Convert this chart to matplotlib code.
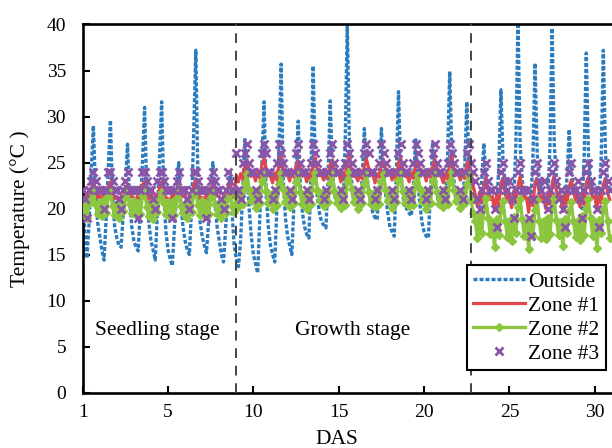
import matplotlib
matplotlib.use('Agg')
import matplotlib.pyplot as plt
import numpy as np

plt.rcParams['font.family'] = ['Liberation Serif', 'DejaVu Serif']

# 3-hourly readings (0h, 3h, ..., 21h), one row per day, DAS 1..31
outside = [
    21.0, 17.5, 14.6, 18.5, 24.0, 29.0, 22.0, 18.5,
    17.0, 15.5, 14.4, 19.0, 24.5, 29.6, 21.5, 18.0,
    16.8, 16.0, 15.8, 19.5, 22.5, 27.0, 21.0, 18.0,
    16.5, 15.8, 15.4, 20.0, 25.0, 31.0, 22.0, 18.5,
    16.5, 15.5, 14.4, 19.5, 25.5, 31.6, 21.5, 17.5,
    15.5, 14.5, 13.8, 18.0, 21.5, 25.0, 20.5, 18.0,
    16.5, 15.5, 15.0, 20.0, 28.0, 37.2, 23.0, 18.5,
    17.0, 16.0, 15.2, 18.5, 22.0, 25.0, 20.5, 18.0,
    16.5, 15.0, 14.2, 18.0, 21.5, 24.0, 19.5, 16.0,
    14.5, 13.7, 16.5, 22.0, 27.5, 24.0, 20.0, 17.0,
    15.0, 14.0, 13.0, 19.0, 25.0, 31.6, 21.5, 18.0,
    16.0, 15.0, 14.2, 20.0, 27.0, 35.7, 23.0, 19.0,
    17.0, 16.0, 15.0, 20.5, 24.5, 29.5, 22.5, 19.5,
    18.0, 17.2, 16.8, 24.0, 35.5, 25.0, 21.0, 19.5,
    18.5, 18.2, 17.9, 23.5, 31.7, 24.0, 21.5, 20.5,
    20.5, 20.3, 20.2, 27.0, 40.0, 27.0, 23.0, 21.5,
    21.0, 20.5, 20.0, 23.5, 28.7, 24.0, 22.0, 20.5,
    19.5, 19.0, 18.8, 23.0, 28.7, 23.5, 21.5, 19.5,
    18.0, 17.5, 17.0, 24.0, 32.7, 24.5, 21.5, 20.0,
    20.0, 19.5, 19.2, 22.5, 27.7, 23.0, 20.5, 18.5,
    17.5, 17.0, 16.8, 22.0, 27.2, 23.0, 21.5, 20.5,
    20.5, 20.3, 20.2, 25.5, 34.9, 26.0, 23.0, 21.5,
    21.0, 20.5, 20.0, 24.0, 31.6, 25.0, 22.5, 21.5,
    21.0, 20.5, 20.0, 23.0, 27.1, 23.5, 22.0, 21.5,
    21.0, 20.5, 20.0, 24.5, 32.9, 25.0, 22.5, 21.5,
    21.0, 20.5, 20.5, 27.0, 40.5, 27.0, 23.0, 22.0,
    21.5, 21.0, 20.5, 25.5, 35.8, 26.0, 23.0, 22.0,
    21.5, 21.0, 20.5, 27.0, 39.6, 27.0, 23.5, 22.0,
    21.5, 21.0, 20.5, 23.5, 28.6, 24.0, 22.5, 21.5,
    21.0, 20.5, 20.0, 25.5, 36.9, 26.0, 23.0, 22.0,
    21.5, 21.0, 20.5, 25.5, 37.2, 26.0, 23.0, 22.0,
]

zone1 = [
    21.0, 20.6, 21.5, 20.8, 22.2, 22.8, 21.8, 21.2,
    21.4, 20.7, 21.6, 21.0, 22.4, 22.9, 21.7, 21.1,
    21.3, 20.5, 21.4, 20.9, 22.1, 22.6, 21.9, 21.3,
    21.2, 20.6, 21.7, 21.0, 22.5, 23.0, 21.8, 21.0,
    21.5, 20.8, 21.5, 20.7, 22.3, 22.9, 21.6, 21.2,
    21.1, 20.5, 21.6, 20.9, 22.0, 22.5, 21.7, 21.3,
    21.4, 20.6, 21.5, 21.1, 22.6, 23.1, 21.9, 21.1,
    21.2, 20.7, 21.7, 20.8, 22.2, 22.7, 21.8, 21.4,
    21.3, 20.6, 21.4, 21.0, 22.3, 22.8, 21.6, 21.2,
    23.6, 22.9, 23.8, 23.2, 24.6, 25.3, 24.2, 23.5,
    23.8, 23.0, 24.0, 23.3, 24.8, 25.4, 24.3, 23.6,
    23.5, 22.8, 23.9, 23.1, 24.9, 25.6, 24.1, 23.7,
    23.7, 23.0, 24.1, 23.4, 24.7, 25.2, 24.4, 23.5,
    23.9, 22.9, 23.8, 23.2, 25.0, 25.5, 24.2, 23.6,
    23.6, 23.1, 24.0, 23.3, 24.8, 25.3, 24.3, 23.8,
    23.8, 22.9, 23.9, 23.5, 25.1, 25.6, 24.1, 23.5,
    23.5, 23.0, 24.1, 23.2, 24.7, 25.4, 24.4, 23.7,
    23.7, 22.8, 23.8, 23.4, 24.9, 25.3, 24.2, 23.6,
    23.9, 23.1, 24.0, 23.1, 25.0, 25.5, 24.3, 23.5,
    23.6, 22.9, 23.9, 23.3, 24.8, 25.2, 24.1, 23.8,
    23.8, 23.0, 24.1, 23.4, 24.6, 25.4, 24.4, 23.6,
    23.5, 22.8, 23.8, 23.2, 25.0, 25.6, 24.2, 23.7,
    23.7, 23.1, 24.0, 23.3, 24.9, 25.3, 24.0, 22.5,
    21.5, 20.2, 21.8, 20.6, 22.6, 23.4, 21.9, 21.0,
    21.3, 19.8, 21.5, 20.4, 22.8, 23.3, 21.6, 20.9,
    21.6, 20.1, 21.9, 20.7, 22.5, 23.5, 22.0, 21.1,
    21.2, 19.6, 21.4, 20.3, 22.9, 23.2, 21.7, 20.8,
    21.5, 20.0, 21.8, 20.5, 22.7, 23.6, 21.9, 21.0,
    21.4, 19.7, 21.6, 20.6, 22.4, 23.1, 21.8, 20.9,
    21.6, 20.2, 21.7, 20.4, 22.8, 23.4, 22.0, 21.2,
    21.3, 19.9, 21.5, 20.6, 22.6, 23.3, 21.7, 21.0,
]

zone2 = [
    19.6, 20.8, 19.0, 20.6, 21.2, 22.0, 20.4, 19.4,
    20.7, 19.2, 20.9, 19.5, 21.4, 21.9, 20.3, 19.3,
    20.5, 19.0, 20.8, 19.7, 21.1, 22.1, 20.5, 19.5,
    20.8, 19.3, 20.6, 19.4, 21.5, 22.0, 20.2, 19.2,
    20.6, 18.9, 20.9, 19.6, 21.3, 21.8, 20.6, 19.4,
    20.7, 19.1, 20.7, 19.3, 21.2, 22.1, 20.3, 19.5,
    20.5, 19.0, 20.8, 19.6, 21.6, 22.0, 20.4, 19.3,
    20.8, 19.2, 20.6, 19.4, 21.3, 21.9, 20.5, 19.4,
    20.6, 19.0, 20.9, 19.5, 21.2, 22.0, 20.3, 19.6,
    21.6, 20.2, 21.8, 20.5, 22.8, 23.8, 22.0, 20.8,
    21.7, 20.1, 22.0, 20.6, 23.0, 23.6, 21.9, 20.6,
    21.5, 20.0, 21.9, 20.4, 22.7, 23.9, 22.1, 20.7,
    21.8, 20.2, 21.7, 20.6, 22.9, 23.7, 21.8, 20.5,
    21.6, 20.0, 22.0, 20.5, 23.1, 23.9, 22.0, 20.8,
    21.7, 20.3, 21.8, 20.7, 22.8, 23.6, 21.9, 20.6,
    21.5, 20.1, 22.1, 20.4, 23.0, 24.0, 22.1, 20.7,
    21.8, 20.0, 21.9, 20.6, 22.7, 23.7, 21.8, 20.5,
    21.6, 20.2, 22.0, 20.5, 22.9, 23.8, 22.0, 20.8,
    21.7, 20.1, 21.8, 20.7, 23.1, 23.9, 21.9, 20.6,
    21.5, 20.3, 22.0, 20.4, 22.8, 23.6, 22.1, 20.7,
    21.8, 20.0, 21.9, 20.6, 23.0, 23.8, 21.8, 20.5,
    21.6, 20.2, 22.1, 20.5, 22.9, 24.0, 22.0, 20.8,
    21.7, 20.1, 21.8, 20.6, 22.7, 23.7, 21.0, 19.5,
    18.6, 16.8, 19.2, 17.4, 20.0, 21.2, 19.0, 17.2,
    18.4, 15.8, 18.9, 17.1, 19.8, 20.8, 18.7, 16.9,
    18.7, 16.5, 19.1, 17.3, 20.2, 21.0, 18.9, 17.0,
    18.3, 15.6, 18.8, 17.0, 19.9, 20.9, 18.6, 16.8,
    18.6, 16.7, 19.0, 17.2, 20.1, 21.1, 18.8, 17.1,
    18.5, 15.9, 18.9, 17.4, 19.7, 20.7, 18.7, 16.9,
    18.7, 16.6, 19.2, 17.1, 20.0, 21.0, 19.0, 17.0,
    18.4, 15.7, 18.8, 17.3, 19.9, 20.8, 18.6, 16.8,
]

zone3 = [
    22, 21, 19, 22, 23, 24, 23, 22,
    22, 22, 20, 22, 24, 24, 23, 22,
    22, 21, 20, 22, 23, 24, 22, 22,
    22, 22, 19, 22, 24, 24, 23, 22,
    22, 21, 20, 23, 24, 24, 23, 22,
    22, 22, 19, 22, 23, 24, 22, 22,
    22, 21, 20, 22, 24, 24, 23, 22,
    22, 22, 19, 22, 23, 24, 23, 22,
    22, 21, 20, 22, 24, 23, 22, 22,
    26, 22, 21, 25, 26, 27, 25, 24,
    24, 22, 21, 24, 26, 27, 26, 24,
    24, 21, 22, 25, 27, 26, 25, 24,
    24, 22, 21, 24, 26, 27, 25, 24,
    24, 22, 21, 25, 27, 26, 25, 24,
    24, 21, 22, 24, 26, 27, 25, 24,
    24, 22, 21, 25, 27, 26, 25, 24,
    24, 22, 21, 24, 26, 27, 26, 24,
    24, 21, 22, 25, 27, 26, 25, 24,
    24, 22, 21, 24, 26, 27, 25, 24,
    24, 22, 21, 25, 27, 26, 25, 24,
    24, 21, 22, 24, 26, 27, 25, 24,
    24, 22, 21, 25, 27, 26, 25, 24,
    24, 22, 21, 24, 26, 27, 25, 24,
    23, 21, 20, 22, 24, 25, 23, 22,
    22, 20, 18, 22, 24, 25, 23, 22,
    23, 21, 19, 22, 24, 25, 22, 22,
    22, 19, 17, 21, 24, 25, 23, 22,
    23, 21, 20, 22, 24, 25, 23, 21,
    22, 20, 18, 22, 24, 25, 22, 22,
    23, 21, 19, 22, 24, 25, 23, 22,
    22, 20, 18, 22, 24, 25, 23, 22,
]

stage_bounds = [9, 22.75]
stage_names = ['Seedling stage', 'Growth stage']
stage_label_x = [4.4, 15.8]
xtick_pos = [0, 5, 10, 15, 20, 25, 30]
xtick_labels = ['1', '5', '10', '15', '20', '25', '30']

t = np.arange(len(outside)) / 8.0

fig = plt.figure(figsize=(6.12, 4.48), dpi=100)
ax = fig.add_axes([82.7 / 612, 55.3 / 448, 597.45 / 612, 368.2 / 448])

ax.plot(t, outside, color='#2b7bbf', lw=2.4, ls=(0, (1.2, 0.6)), label='Outside', zorder=2)
ax.plot(t, zone1, color='#e0474c', lw=2.3, label='Zone #1', zorder=3)
ax.plot(t, zone2, color='#8cc63f', lw=2.4, marker='D', ms=3.8, label='Zone #2', zorder=4)
ax.plot(t, zone3, color='#8a55a6', ls='none', marker='x', ms=5.5, mew=2.0, label='Zone #3', zorder=5)

for b in stage_bounds:
    ax.axvline(b, color='#444444', lw=1.4, ls=(0, (5, 4)), zorder=6)

for name, xs in zip(stage_names, stage_label_x):
    ax.text(xs, 6.8, name, ha='center', va='center', fontsize=15.5, zorder=7)

ax.set_xlim(0, 35)
ax.set_ylim(0, 40)
ax.set_yticks(np.arange(0, 41, 5))
ax.set_xticks(xtick_pos)
ax.set_xticklabels(xtick_labels)
ax.tick_params(direction='in', length=5, width=1.5, labelsize=14)
ax.tick_params(axis='y', pad=12)
ax.tick_params(axis='x', pad=8)
for s in ax.spines.values():
    s.set_linewidth(1.9)

ax.set_ylabel('Temperature (°C )', fontsize=15.5)
ax.yaxis.set_label_coords(-0.088, 0.5)
ax.set_xlabel('DAS', fontsize=15.5)
ax.xaxis.set_label_coords(0.4257, -0.10)

leg = ax.legend(loc='lower left', bbox_to_anchor=(0.6432, 0.0617), fontsize=15.5,
                frameon=True, fancybox=False, edgecolor='black', framealpha=1,
                handlelength=2.4, handletextpad=0.15, labelspacing=0.18,
                borderpad=0.3, borderaxespad=0, numpoints=1)
leg.get_frame().set_linewidth(1.5)
leg.set_zorder(10)

fig.savefig('out.png', dpi=100)
